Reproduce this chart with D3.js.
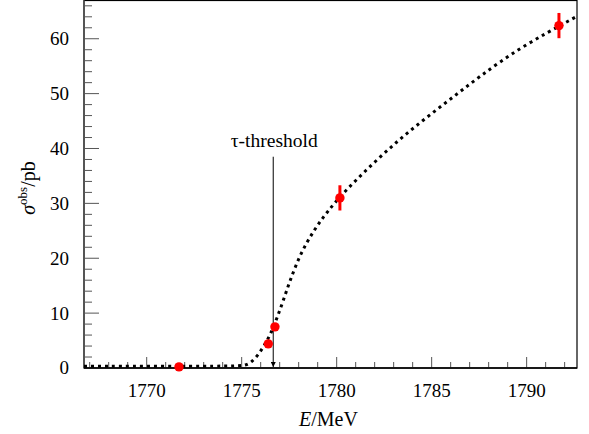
<!DOCTYPE html>
<meta charset="utf-8">
<script src="https://d3js.org/d3.v7.min.js"></script>
<style>
  body { margin: 0; background: #fff; }
</style>
<svg id="chart" width="589" height="434"></svg>
<script>

    // Measured points: energy (MeV), cross section (pb), error (pb)
    var energy = [1771.7, 1776.4, 1776.75, 1780.17, 1791.7]
    var sigma  = [0.2, 4.4, 7.5, 31.0, 62.4]
    var sigmaErr = [0.3, 0.4, 0.6, 2.3, 2.3]

    // Fit curve
    var curveE = [1766.7, 1774.8, 1775.2, 1775.5, 1775.9, 1776.2, 1776.5, 1776.85, 1777.2, 1777.55,
                  1778.1, 1778.8, 1779.5, 1780.5, 1782.3, 1784.0, 1785.8, 1787.55, 1789.65, 1792.55]
    var curveS = [0.3, 0.3, 0.5, 1.0, 2.5, 4.2, 6.0, 9.0, 12.4, 16.0,
                  20.9, 25.1, 28.5, 32.5, 38.6, 43.7, 48.5, 53.2, 58.4, 63.9]

    var xTicks = [1770, 1775, 1780, 1785, 1790]
    var yTicks = [0, 10, 20, 30, 40, 50, 60]
    var threshold = 1776.66

    var serif = "'Liberation Serif', 'Times New Roman', serif"

    var svg = d3.select("#chart"),
        margin = {top: 0.5, right: 12, bottom: 66, left: 84},
        width = +svg.attr("width") - margin.left - margin.right,
        height = +svg.attr("height") - margin.top - margin.bottom;

    var g = svg.append("g").attr("transform", "translate(" + margin.left + "," + margin.top + ")")

    var x = d3.scaleLinear().domain([1766.7, 1792.65]).range([0, width])
    var y = d3.scaleLinear().domain([0, 66.97]).range([height, 0])

    // frame
    g.append("rect")
      .attr("width", width).attr("height", height)
      .attr("fill", "none").attr("stroke", "#000").attr("stroke-width", 1.2)

    // x ticks (inside, pointing up)
    var xMinor = d3.range(1767, 1793, 1).filter(function(d){ return xTicks.indexOf(d) < 0 })
    g.selectAll(".xminor").data(xMinor).enter().append("line")
      .attr("x1", x).attr("x2", x).attr("y1", height).attr("y2", height - 6)
      .attr("stroke", "#555").attr("stroke-width", 1)
    g.selectAll(".xmajor").data(xTicks).enter().append("line")
      .attr("x1", x).attr("x2", x).attr("y1", height).attr("y2", height - 11)
      .attr("stroke", "#555").attr("stroke-width", 1)
    g.selectAll(".xlab").data(xTicks).enter().append("text")
      .attr("x", x).attr("y", height + 29)
      .attr("text-anchor", "middle")
      .style("font-family", serif).style("font-size", "19px")
      .text(function(d){ return d })

    // y ticks (inside, pointing right)
    var yMinor = d3.range(2, 67, 2).filter(function(d){ return d % 10 !== 0 })
    g.selectAll(".yminor").data(yMinor).enter().append("line")
      .attr("x1", 0).attr("x2", 8).attr("y1", y).attr("y2", y)
      .attr("stroke", "#555").attr("stroke-width", 1)
    g.selectAll(".ymajor").data(yTicks).enter().append("line")
      .attr("x1", 0).attr("x2", 15).attr("y1", y).attr("y2", y)
      .attr("stroke", "#555").attr("stroke-width", 1)
    g.selectAll(".ylab").data(yTicks).enter().append("text")
      .attr("x", -15).attr("y", y).attr("dy", "0.34em")
      .attr("text-anchor", "end")
      .style("font-family", serif).style("font-size", "19px")
      .text(function(d){ return d })

    // left axis line, grey and a bit heavier
    g.append("line").attr("x1", 0).attr("x2", 0).attr("y1", 0).attr("y2", height)
      .attr("stroke", "#555").attr("stroke-width", 2)
    g.append("line").attr("x1", 0).attr("x2", width).attr("y1", height).attr("y2", height)
      .attr("stroke", "#000").attr("stroke-width", 1.5)

    // dotted fit curve
    var line = d3.line()
      .x(function(d){ return x(d[0]) })
      .y(function(d){ return y(d[1]) })
      .curve(d3.curveBasis)
    g.append("path")
      .datum(d3.zip(curveE, curveS))
      .attr("d", line)
      .attr("fill", "none").attr("stroke", "#000")
      .attr("stroke-width", 3).attr("stroke-dasharray", "3,4")

    // threshold arrow
    svg.append("defs").append("marker")
      .attr("id", "arrow").attr("viewBox", "0 0 10 10")
      .attr("refX", 10).attr("refY", 5)
      .attr("markerWidth", 5).attr("markerHeight", 5)
      .attr("orient", "auto")
      .append("path").attr("d", "M0,0 L10,5 L0,10 Z").attr("fill", "#000")
    g.append("line")
      .attr("x1", x(threshold)).attr("x2", x(threshold))
      .attr("y1", y(38.5)).attr("y2", height - 1)
      .attr("stroke", "#000").attr("stroke-width", 1)
      .attr("marker-end", "url(#arrow)")
    g.append("text")
      .attr("x", x(threshold) + 1).attr("y", y(40.3))
      .attr("text-anchor", "middle")
      .style("font-family", serif).style("font-size", "19.5px")
      .text("τ-threshold")

    // data points with error bars
    var pts = d3.range(energy.length).map(function(i){ return {e: energy[i], s: sigma[i], err: sigmaErr[i]} })
    g.selectAll(".err").data(pts).enter().append("line")
      .attr("x1", function(d){ return x(d.e) }).attr("x2", function(d){ return x(d.e) })
      .attr("y1", function(d){ return y(d.s - d.err) }).attr("y2", function(d){ return y(d.s + d.err) })
      .attr("stroke", "#ff0000").attr("stroke-width", 3)
    g.selectAll(".pt").data(pts).enter().append("circle")
      .attr("cx", function(d){ return x(d.e) })
      .attr("cy", function(d){ return y(d.s) })
      .attr("r", 4.7)
      .attr("fill", "#ff0000")

    // axis titles
    var xt = svg.append("text")
      .attr("x", margin.left + width / 2 - 2).attr("y", 426)
      .attr("text-anchor", "middle")
      .style("font-family", serif).style("font-size", "20px")
    xt.append("tspan").style("font-style", "italic").text("E")
    xt.append("tspan").text("/MeV")

    var yt = svg.append("text")
      .attr("transform", "translate(35,188) rotate(-90)")
      .attr("text-anchor", "middle")
      .style("font-family", serif).style("font-size", "20px")
    yt.append("tspan").style("font-style", "italic").text("σ")
    yt.append("tspan").attr("dy", -8).style("font-size", "13px").text("obs")
    yt.append("tspan").attr("dy", 8).text("/pb")

</script>
